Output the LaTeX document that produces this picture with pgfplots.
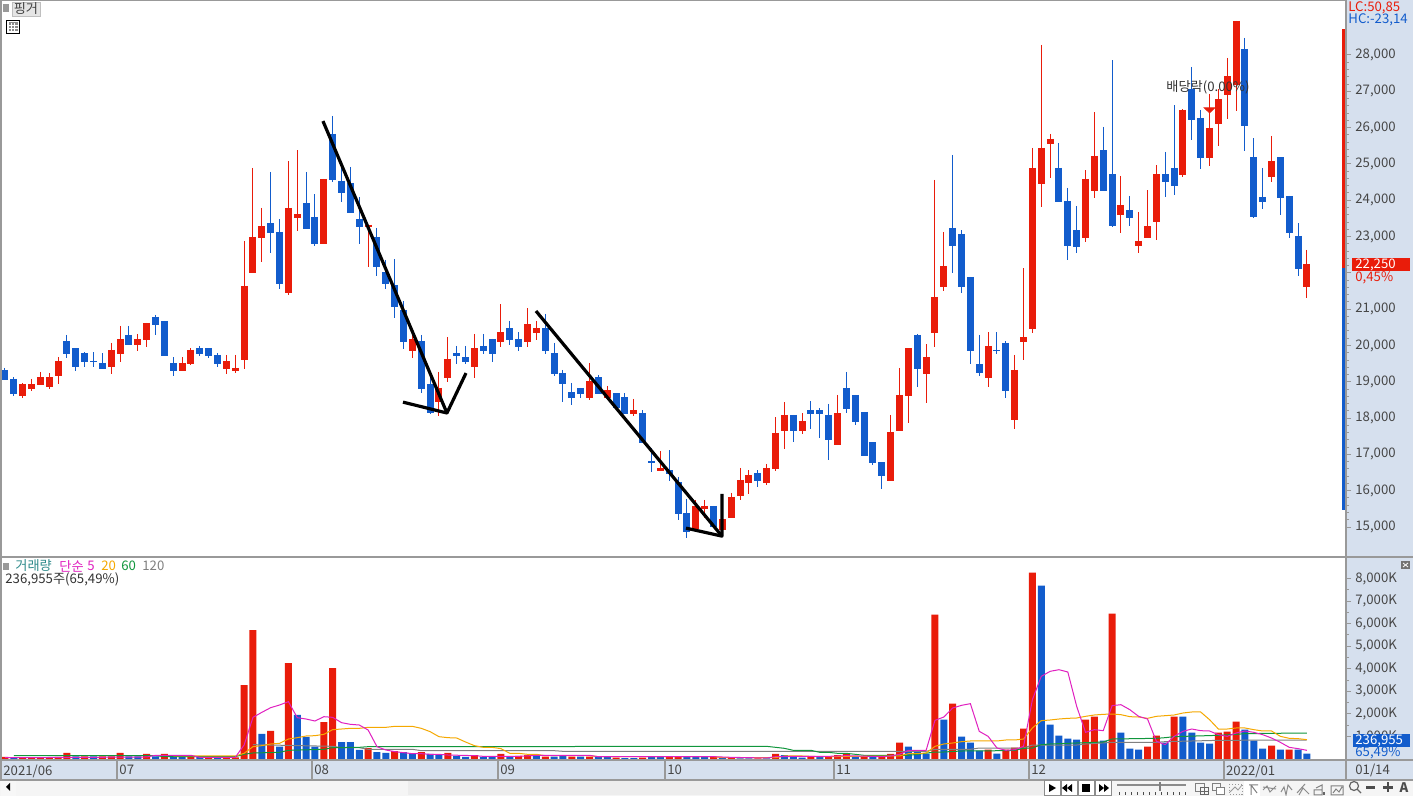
\documentclass[border=0pt]{standalone}
\usepackage{pgfplots}
\usepackage{pgfplotstable}
\usepackage{fontspec}
\pgfplotsset{compat=1.18}
\setmainfont{Noto Sans CJK KR}
\definecolor{cred}{RGB}{233,28,10}
\definecolor{cblue}{RGB}{18,92,204}
\definecolor{panel}{RGB}{214,224,238}
\definecolor{framegray}{RGB}{153,153,153}
\definecolor{txt}{RGB}{70,70,70}
\definecolor{cmag}{RGB}{224,32,192}
\definecolor{cora}{RGB}{245,168,0}
\definecolor{cgre}{RGB}{16,150,60}
\definecolor{cgra}{RGB}{128,128,128}
\definecolor{cteal}{RGB}{46,139,139}
\newcommand{\fs}{\fontsize{6.6}{8}\selectfont}

% i high top bottom low
\pgfplotstableread{
i h t b l
2 18970 18940 18610 18550
3 19080 18940 18800 18750
4 19270 19130 18910 18910
5 19240 19130 18860 18800
6 19680 19570 19160 18940
12 20070 19880 19410 19220
13 20540 20180 19770 19550
15 20320 20180 20010 19850
16 20620 20620 20150 19960
20 19680 19520 19300 19300
21 19930 19880 19490 19460
25 19740 19570 19350 19220
26 19740 19380 19300 19240
27 22880 21640 19600 19350
28 24890 22990 22000 22000
29 23790 23290 22960 22300
32 25080 23790 21450 21390
33 25380 23620 23510 23150
36 24590 24590 22800 22800
41 23320 23320 23260 22160
46 20290 20180 19850 19660
49 19270 18830 18440 18060
50 20230 19630 19110 19000
53 20320 19930 19410 19110
56 21140 20370 20100 19960
59 21030 20590 20100 19960
60 20680 20480 20340 20150
66 19520 19020 18550 18500
68 18890 18770 18550 18550
71 18530 18220 18110 18060
74 17090 16630 16540 16540
78 15750 15580 14950 14950
79 15750 15580 15500 15250
81 15280 15220 14920 14920
82 15940 15830 15250 15250
83 16630 16300 15860 15750
84 16570 16430 16210 15910
86 16740 16630 16210 16160
87 18030 17590 16600 16540
88 18440 18090 17650 17150
90 18140 17920 17650 17560
94 18640 18140 17260 17260
100 18090 17620 16270 16270
101 19380 18640 17650 17650
102 19930 19930 18610 17870
104 20040 19680 19220 18420
105 24560 21340 20340 19960
106 23130 22190 21610 21500
111 20370 19990 19110 18860
114 19740 19330 17950 17700
115 22130 20230 20100 19600
116 25440 24890 20450 20340
117 28280 25440 24450 23810
118 25830 25690 25550 24610
122 24830 24590 22960 22850
123 26430 25220 24260 24060
126 24670 23870 23590 23100
128 23680 22880 22740 22550
129 24280 23290 22960 22960
130 24970 24720 23400 22910
133 26510 26490 24700 24640
136 26930 25990 25160 24940
137 27060 26790 26100 25490
138 27920 27420 26900 26240
139 28940 28940 27170 26460
143 25770 25080 24640 24500
147 22630 22250 21610 21310
}\redcandles
\pgfplotstableread{
i h t b l
0 19380 19330 19050 19050
1 19130 19080 18660 18610
7 20290 20120 19770 19660
8 19930 19930 19410 19300
9 19820 19790 19550 19410
10 19820 19570 19550 19410
11 19790 19520 19350 19350
14 20540 20290 20010 20010
17 20840 20790 20570 20290
18 20680 20680 19710 19710
19 19680 19520 19300 19160
22 19990 19930 19770 19710
23 19930 19930 19710 19660
24 19790 19740 19490 19410
30 24780 23370 23100 22550
31 23480 23130 21690 21560
34 24780 23920 23210 23210
35 24170 23540 22800 22740
37 26320 25830 24560 24500
38 24970 24530 24200 23950
39 24920 24480 23650 23650
40 24090 23480 23260 22800
42 23240 22990 22160 21910
43 22360 22020 21690 21560
44 22380 21670 21060 20760
45 21230 20980 20100 19900
47 20290 20120 18800 18690
48 19130 18940 18140 18110
51 19990 19790 19710 19490
52 19990 19680 19550 19490
54 20320 19990 19850 19770
55 20180 20180 19770 19550
57 20680 20480 20150 20010
58 20370 20180 19960 19850
61 20870 20480 19850 19770
62 20070 19790 19220 19160
63 19330 19240 18940 18440
64 18970 18720 18550 18360
65 18830 18830 18660 18550
67 19190 19130 18660 18660
69 18690 18690 18280 18280
70 18690 18580 18110 18110
72 18220 18140 17320 17320
73 17180 16820 16760 16520
75 17120 16570 16460 16270
76 16380 16240 15360 15190
77 15770 15390 14860 14700
80 15580 15580 15000 15000
85 16570 16490 16270 16100
89 18090 18090 17650 17340
91 18470 18220 18110 17700
92 18280 18220 18110 17450
93 18390 18090 17400 16850
95 19270 18830 18250 18140
96 18640 18640 17890 17810
97 18170 18170 16960 16960
98 17340 17340 16760 16710
99 16790 16790 16410 16050
103 20320 20290 19350 18860
107 25250 23240 22740 22000
108 23180 23070 21610 21450
109 21890 21890 19850 19490
110 20290 19490 19240 19160
112 20370 19880 19850 19770
113 20120 20070 18750 18550
119 25580 24890 23950 23950
120 24340 23980 22740 22360
121 23840 23180 22710 22550
124 26020 25380 24260 24260
125 27860 24720 23290 23260
127 24120 23730 23510 23290
131 25330 24720 24500 24090
132 26620 24890 24390 24150
134 27670 27060 26210 25660
135 26490 26270 25160 24860
140 28470 28170 26050 25360
141 25710 25190 23540 23510
142 24890 24090 23950 23760
144 25190 25190 24060 23590
145 24120 24120 23100 22960
146 23370 23020 22110 21910
}\bluecandles
\pgfplotstableread{
i v
0 89
2 74
3 74
4 59
5 59
6 89
7 266
9 118
11 118
12 118
13 266
16 222
18 222
21 118
23 44
25 74
26 74
27 3279
28 5716
30 1241
32 4254
36 1639
37 4032
41 487
44 354
47 310
50 266
53 177
56 222
58 133
59 177
61 103
64 103
66 103
69 59
72 59
75 103
76 103
80 103
82 59
85 30
87 222
91 103
93 103
94 177
95 222
97 103
99 103
100 222
101 724
105 6395
107 2452
111 414
113 414
114 502
115 1344
116 8256
122 1743
123 1876
125 6440
129 546
130 1034
132 1876
137 1167
138 1211
139 1654
143 591
145 414
}\redvol
\pgfplotstableread{
i v
1 44
8 118
10 118
14 118
15 118
17 118
19 118
20 118
22 118
24 59
29 1108
31 546
33 1950
34 975
35 546
38 753
39 753
40 399
42 310
43 266
45 310
46 222
48 222
49 177
51 133
52 89
54 89
55 89
57 89
60 177
62 103
63 133
65 103
67 89
68 89
70 44
71 44
73 89
74 89
77 103
78 103
79 103
81 59
83 30
84 30
86 30
88 177
89 103
90 59
92 103
96 103
98 103
102 546
103 369
104 236
106 1743
108 990
109 724
110 369
112 236
117 7680
118 1521
119 1034
120 901
121 857
124 812
126 1167
127 458
128 414
131 724
133 1876
134 1167
135 724
136 679
140 1300
141 812
142 458
144 414
146 414
147 237
}\bluevol
\pgfplotstableread{
i v
0 59
10 74
16 89
17 163
21 163
22 74
26 74
27 620
28 1846
29 2068
30 2275
31 2393
32 2541
33 1831
34 1772
35 1683
36 1875
37 1846
38 1610
39 1536
40 1506
41 1285
42 546
43 399
44 325
45 281
46 236
47 236
48 207
49 207
50 177
53 148
54 118
58 118
60 162
66 162
67 103
80 103
82 74
86 44
87 103
90 118
93 118
95 148
99 103
100 133
101 207
102 384
104 384
105 1713
106 1861
107 2260
108 2378
109 2452
110 1226
111 1004
112 487
113 384
114 414
115 561
116 2629
117 3663
118 3885
119 3958
120 3855
121 2334
122 1182
123 1300
124 1255
125 2363
126 2407
127 2186
128 1890
129 1772
130 783
131 635
132 1004
133 1226
134 1329
135 1255
136 1241
137 1078
138 1004
139 1152
140 1241
141 1182
142 1078
143 930
144 738
145 517
146 458
147 384
}\mafive
\pgfplotstableread{
i v
19 133
26 133
27 251
28 546
29 591
30 665
31 694
32 886
33 945
34 1019
35 1034
36 1093
37 1300
38 1329
39 1359
40 1359
41 1403
43 1403
44 1447
46 1447
47 1359
48 1211
49 989
50 945
51 930
52 753
53 591
54 517
55 517
56 458
57 251
58 251
59 207
60 207
61 148
66 148
67 103
80 103
81 59
87 59
88 133
90 133
92 103
100 133
101 133
102 236
103 236
104 266
105 561
106 665
107 709
108 768
109 798
112 798
113 842
114 842
115 886
116 1374
117 1699
118 1728
119 1772
120 1802
121 1817
122 1891
123 1950
124 1979
125 1994
126 1964
127 1876
128 1861
129 1802
130 1891
131 1920
132 1950
133 2038
134 2083
135 2083
136 1743
137 1329
138 1329
139 1374
140 1374
141 1300
142 1241
143 1241
144 1004
145 916
146 901
147 857
}\matwenty
\pgfplotstableread{
i v
1 148
17 148
18 103
26 103
27 207
28 266
31 295
32 384
36 428
37 502
40 517
41 546
86 561
87 517
88 473
89 384
91 384
92 295
93 295
94 251
95 251
96 207
97 162
102 162
103 207
105 310
106 310
108 354
113 369
114 384
115 473
116 487
117 635
118 665
122 724
124 753
125 886
130 916
131 945
132 990
137 1049
139 1093
140 1122
143 1137
147 1152
}\masixty
\pgfplotstableread{
i v
28 635
37 561
38 502
40 502
41 428
46 428
47 369
62 369
63 340
104 340
105 428
109 428
110 487
115 487
116 620
121 620
122 665
125 739
130 739
131 768
137 827
147 842
}\maonetwenty

\pgfplotsset{
  candle/.style={draw=none, mark=none, forget plot},
  stdframe/.style={
    scale only axis, width=672.5pt, xmin=-0.4516, xmax=151.41,
    axis y line*=right, tick align=outside,
    major tick length=2.5pt, minor tick length=1.5pt,
    y axis line style={draw=framegray, line width=1pt},
    ytick style={draw=framegray, line width=0.5pt},
    minor y tick style={draw=framegray, line width=0.5pt},
    yticklabel style={font=\fs, text=txt, inner xsep=2pt},
    scaled y ticks=false,
    /pgf/number format/.cd, fixed, 1000 sep={,}, assume math mode=true,
  },
}

\begin{document}
\begin{tikzpicture}
\useasboundingbox (0,0) rectangle (706.5pt,398pt);
% ---- static panels
\begin{scope}[x=0.5pt,y=-0.5pt,yshift=398pt]
\fill[white] (0,0) rectangle (1413,796);
\fill[panel] (1346,0) rectangle (1413,760);
\fill[panel] (0,760) rectangle (1413,780);
\fill[black!4] (0,781) rectangle (1413,796);
\end{scope}

% ---- price panel
\begin{axis}[stdframe, at={(0.5pt,119.5pt)}, anchor=south west, height=278.5pt,
  axis x line=none,
  ymin=14175, ymax=29515,
  ytick={15000,16000,...,28000}, minor y tick num=4,
  yticklabels={{15,000},{16,000},{17,000},{18,000},{19,000},{20,000},{21,000},{},{23,000},{24,000},{25,000},{26,000},{27,000},{28,000}}]
\addplot[candle, error bars/.cd, y dir=minus, y explicit, error mark=none,
  error bar style={draw=cred, line width=0.5pt}]
  table[x=i, y=h, y error minus expr=\thisrow{h}-\thisrow{l}] {\redcandles};
\addplot[candle, error bars/.cd, y dir=minus, y explicit, error mark=none,
  error bar style={draw=cred, line width=3.5pt}]
  table[x=i, y=t, y error minus expr=\thisrow{t}-\thisrow{b}] {\redcandles};
\addplot[candle, error bars/.cd, y dir=minus, y explicit, error mark=none,
  error bar style={draw=cblue, line width=0.5pt}]
  table[x=i, y=h, y error minus expr=\thisrow{h}-\thisrow{l}] {\bluecandles};
\addplot[candle, error bars/.cd, y dir=minus, y explicit, error mark=none,
  error bar style={draw=cblue, line width=3.5pt}]
  table[x=i, y=t, y error minus expr=\thisrow{t}-\thisrow{b}] {\bluecandles};
% dividend marker
\addplot[only marks, forget plot, mark=triangle*, mark size=3.1pt,
  mark options={cred, rotate=180, yscale=0.55}] coordinates {(136,26500)};
% hand-drawn strokes
\addplot[black, line width=1.6pt, line join=round, forget plot] coordinates {(35.9,26180) (49.9,18140)};
\addplot[black, line width=1.6pt, line join=round, forget plot] coordinates {(44.94,18440) (49.9,18140) (52.05,19240)};
\addplot[black, line width=1.6pt, line join=round, forget plot] coordinates {(59.95,20950) (80.95,14750)};
\addplot[black, line width=1.6pt, line join=round, forget plot] coordinates {(76.89,14970) (80.95,14750) (80.95,15910)};
\end{axis}

% ---- volume panel
\begin{axis}[stdframe, at={(0.5pt,18pt)}, anchor=south west, height=101.5pt,
  axis x line*=bottom,
  x axis line style={draw=framegray, line width=1pt},
  xtick={-0.45,12.65,34.66,55.66,74.52,93.6,115.6,137.6},
  xticklabels={2021/06,07,08,09,10,11,12,2022/01},
  xtick style={draw=none},
  xticklabel style={font=\fs, text=txt, anchor=north west, inner sep=0pt, xshift=1pt, yshift=0pt},
  ymin=-44.3, ymax=8953,
  ytick={1000,2000,...,8000}, minor y tick num=1,
  yticklabel={\pgfmathprintnumber{\tick}K},
  bar width=3.5pt, bar shift=0pt]
\addplot[ybar, bar shift=0pt, fill=cred, draw=none, forget plot] table[x=i,y=v] {\redvol};
\addplot[ybar, bar shift=0pt, fill=cblue, draw=none, forget plot] table[x=i,y=v] {\bluevol};
\addplot[cgra, line width=0.5pt, forget plot] table[x=i,y=v] {\maonetwenty};
\addplot[cgre, line width=0.5pt, forget plot] table[x=i,y=v] {\masixty};
\addplot[cora, line width=0.5pt, forget plot] table[x=i,y=v] {\matwenty};
\addplot[cmag, line width=0.5pt, forget plot] table[x=i,y=v] {\mafive};
\end{axis}

% ---- overlays
\begin{scope}[x=0.5pt,y=-0.5pt,yshift=398pt]
% frame
\draw[framegray, line width=1pt] (0.5,0) -- (0.5,781);
\draw[framegray, line width=0.5pt] (0,0.3) -- (1346,0.3);
\draw[framegray, line width=1pt] (0,557) -- (1413,557);
\draw[framegray, line width=1pt] (0,760) -- (1413,760);
\draw[framegray, line width=1pt] (0,780) -- (1413,780);
\draw[framegray, line width=1pt] (1346,760) -- (1346,780);
\foreach \x in {117,312,498,665,834,1029,1224} \draw[framegray, line width=0.7pt] (\x,760) -- (\x,780);
\node[anchor=west, inner sep=0pt, font=\fs, text=txt] at (1355,770) {01/14};
% range bar
\fill[cred] (1342,29) rectangle (1345,268);
\fill[cblue] (1342,268) rectangle (1345,510);
% top right text
\node[anchor=west, inner sep=0pt, font=\fs, text=cred] at (1348,8) {LC:50,85};
\node[anchor=west, inner sep=0pt, font=\fs, text=cblue] at (1348,20) {HC:-23,14};
\fill[cred] (1352,258) rectangle (1410,271);
\node[anchor=west, inner sep=0pt, font=\fs, text=white] at (1355,264.5) {22,250};
\node[anchor=west, inner sep=0pt, font=\fs, text=cred] at (1355,277.5) {0,45\%};
% volume tag
\fill[cblue] (1353,734) rectangle (1410,747);
\node[anchor=west, inner sep=0pt, font=\fs, text=white] at (1355,740.5) {236,955};
\node[anchor=west, inner sep=0pt, font=\fs, text=cblue] at (1355,752.5) {65,49\%};
% close box
\fill[black!55] (1401,561) rectangle (1410,569);
\draw[white, line width=0.4pt] (1403,563) -- (1408,567) (1403,567) -- (1408,563);
% dividend text
\node[inner sep=0pt, font=\fs, text=black!80] at (1208,87) {배당락(0.00\%)};
% top-left widgets
\fill[black!40] (3,4) rectangle (9,12);
\fill[black!10] (12,2) rectangle (40,16);
\draw[black!25, line width=0.4pt] (12,2) rectangle (40,16);
\node[inner sep=0pt, font=\fs, text=black!75] at (26,9) {핑거};
\draw[black, line width=0.7pt] (6.5,20.5) rectangle (19.5,33.5);
\fill[black!45] (8.5,22.5) rectangle (17.5,31.5);
\draw[white, line width=0.3pt] (11.5,23.5) -- (11.5,31.5) (14.5,23.5) -- (14.5,31.5) (8.5,25.5) -- (17.5,25.5) (8.5,28.5) -- (17.5,28.5);
% volume legend
\fill[black!40] (3,563) rectangle (9,570);
\node[anchor=west, inner sep=0pt, font=\fs, text=cteal] at (15,566) {거래량};
\node[anchor=west, inner sep=0pt, font=\fs, text=cmag] at (59,566) {단순};
\node[anchor=west, inner sep=0pt, font=\fs, text=cmag] at (87,566) {5};
\node[anchor=west, inner sep=0pt, font=\fs, text=cora] at (101,566) {20};
\node[anchor=west, inner sep=0pt, font=\fs, text=cgre] at (121,566) {60};
\node[anchor=west, inner sep=0pt, font=\fs, text=cgra] at (142,566) {120};
\node[anchor=west, inner sep=0pt, font=\fs, text=black!80] at (5,579) {236,955주(65,49\%)};
% scrollbar
\fill[black!3] (1,781) rectangle (16,796);
\fill[black] (10,783) -- (10,791) -- (6,787) -- cycle;
\fill[black!7] (408,781) rectangle (1044,795);
\foreach \x in {1044,1061,1078,1095} {\fill[white] (\x,780.5) rectangle ++(16,15); \draw[black!45, line width=0.4pt] (\x,780.5) rectangle ++(16,15);}
\fill[black] (1049,784) -- (1049,792) -- (1056,788) -- cycle;
\fill[black] (1072,784) -- (1072,792) -- (1067,788) -- cycle;
\fill[black] (1067,784) -- (1067,792) -- (1062,788) -- cycle;
\fill[black] (1082,784) rectangle (1090,792);
\fill[black] (1099,784) -- (1099,792) -- (1104,788) -- cycle;
\fill[black] (1104,784) -- (1104,792) -- (1109,788) -- cycle;
\draw[black!45, line width=0.8pt] (1117,785) -- (1186,785);
\fill[black!50] (1159,782) rectangle (1161,791);
\foreach \x in {1119,1125,...,1185} \fill[black!70] (\x,792) rectangle ++(0.8,3);
% toolbar icons
\draw[black!50, line width=0.5pt] (1195,784) rectangle (1204,792);
\draw[black!60, line width=0.5pt] (1200,788) rectangle (1208,795) (1204,788) -- (1204,795) (1200,791.5) -- (1208,791.5);
\draw[black!50, line width=0.5pt] (1212,784) rectangle (1220,791);
\draw[black!50, line width=0.5pt, fill=white] (1216,788) rectangle (1224,795);
\draw[black!40, line width=0.4pt, densely dotted] (1229,784) rectangle (1242,794);
\draw[black!40, line width=0.4pt] (1230,792) -- (1235,787) -- (1238,790) -- (1242,785);
\fill[white] (1244,781) rectangle (1260,796);
\draw[black!50, line width=0.5pt] (1249,785) -- (1258,785) (1251,795) -- (1251,785) (1251,785) -- (1257,793);
\draw[black!45, line width=0.5pt] (1263,790) -- (1267,786) -- (1270,792) -- (1276,786) (1263,787) -- (1276,789);
\draw[black!45, line width=0.5pt] (1281,792) -- (1284,787) -- (1286,795) -- (1288,785) -- (1292,790);
\draw[black!45, line width=0.5pt] (1297,793) -- (1305,784) (1299,795) -- (1303,788) -- (1309,794);
\draw[black!50, line width=0.5pt] (1314,790) rectangle (1322,795) (1316,788) -- (1322,785) -- (1322,790);
\fill[black!60] (1323,792) rectangle (1325,795);
\draw[black!50, line width=0.5pt] (1331,786) rectangle (1343,795) (1333,793) -- (1336,789) -- (1339,792) -- (1342,787);
\draw[black!60, line width=0.6pt] (1354,786) circle[radius=4.5] (1357.5,789.5) -- (1361,793);
\draw[black!70, line width=1.1pt] (1366,787.5) -- (1375,787.5);
\draw[black!70, line width=1.1pt] (1383,787.5) -- (1393,787.5) (1388,782.5) -- (1388,792.5);
\node[inner sep=0pt, font=\bfseries\fontsize{6.6}{8}\selectfont, text=black!70] at (1404,788) {A};
\end{scope}
\end{tikzpicture}
\end{document}
